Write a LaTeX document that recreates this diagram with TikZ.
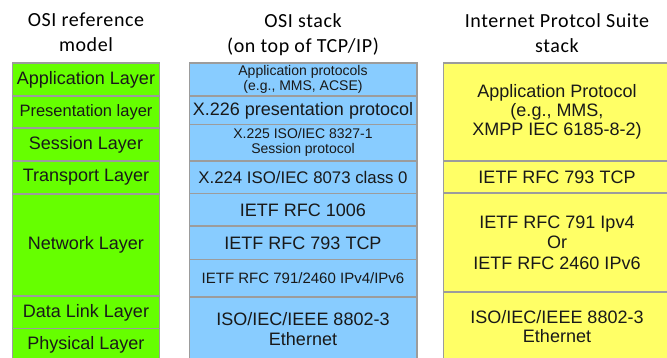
\documentclass[tikz,border=0pt]{standalone}
\usepackage{fontspec}
\setmainfont{Liberation Sans}
\newfontfamily\headingfont[LetterSpace=3]{Carlito}

\definecolor{osigreen}{HTML}{66FF00}
\definecolor{osiblue}{HTML}{88CCFF}
\definecolor{ipsyellow}{HTML}{FFFF66}
\definecolor{cellgrey}{HTML}{9C9C9C}

\begin{document}
\begin{tikzpicture}[x=1pt,y=-1pt,
	cell/.style={draw=cellgrey, line width=1.2pt},
	layertext/.style={align=center, inner sep=0pt, text=black!90, font=\fontsize{18}{20.5}\selectfont},
	smalltext/.style={layertext, font=\fontsize{14}{15}\selectfont},
	heading/.style={align=center, anchor=north, inner sep=0pt, font=\headingfont\fontsize{20}{25}\selectfont}]
	\useasboundingbox (0,0) rectangle (667,358);
	\clip (0,0) rectangle (667,358);

	% OSI reference model
	\draw[cell, fill=osigreen] (12.5,63) rectangle (159.5,96);
	\draw[cell, fill=osigreen] (12.5,96) rectangle (159.5,128);
	\draw[cell, fill=osigreen] (12.5,128) rectangle (159.5,161);
	\draw[cell, fill=osigreen] (12.5,161) rectangle (159.5,194);
	\draw[cell, fill=osigreen] (12.5,194) rectangle (159.5,296);
	\draw[cell, fill=osigreen] (12.5,296) rectangle (159.5,328.5);
	\draw[cell, fill=osigreen] (12.5,328.5) rectangle (159.5,365);

	% OSI stack
	\draw[cell, fill=osiblue] (189.5,63) rectangle (417,96);
	\draw[cell, fill=osiblue] (189.5,96) rectangle (417,124.5);
	\draw[cell, fill=osiblue] (189.5,124.5) rectangle (417,161);
	\draw[cell, fill=osiblue] (189.5,161) rectangle (417,193.5);
	\draw[cell, fill=osiblue] (189.5,193.5) rectangle (417,226);
	\draw[cell, fill=osiblue] (189.5,226) rectangle (417,259.5);
	\draw[cell, fill=osiblue] (189.5,259.5) rectangle (417,297);
	\draw[cell, fill=osiblue] (189.5,297) rectangle (417,365);

	% Internet protocol suite
	\draw[cell, fill=ipsyellow] (443.5,63) rectangle (671,161);
	\draw[cell, fill=ipsyellow] (443.5,161) rectangle (671,193);
	\draw[cell, fill=ipsyellow] (443.5,193) rectangle (671,292);
	\draw[cell, fill=ipsyellow] (443.5,292) rectangle (671,365);

	% Headings
	\node[heading] (osihead) at (86,13) {OSI reference\\model};
	\node[heading] (stackhead) at (303,13) {OSI stack\\(on top of TCP/IP)};
	\node[heading] (ipshead) at (557,13) {Internet Protcol Suite\\stack};

	% Layers
	\node[layertext] (application) at (86,79.5) {Application Layer};
	\node[layertext, font=\fontsize{16.5}{18}\selectfont] (presentation) at (86,112) {Presentation layer};
	\node[layertext] (session) at (86,144.5) {Session Layer};
	\node[layertext] (transport) at (86,177.5) {Transport Layer};
	\node[layertext] (network) at (86,245) {Network Layer};
	\node[layertext] (datalink) at (86,312.5) {Data Link Layer};
	\node[layertext] (physical) at (86,344.5) {Physical Layer};

	% OSI stack protocols
	\node[smalltext] (appproto) at (303,79.5) {Application protocols\\(e.g., MMS, ACSE)};
	\node[layertext] (xpres) at (303,110.5) {X.226 presentation protocol};
	\node[smalltext] (xsess) at (303,142.75) {X.225 ISO/IEC 8327-1\\Session protocol};
	\node[layertext, font=\fontsize{16.8}{18}\selectfont] (xtrans) at (303,177.5) {X.224 ISO/IEC 8073 class 0};
	\node[layertext] (rfcosi) at (303,210) {IETF RFC 1006};
	\node[layertext] (tcposi) at (303,243) {IETF RFC 793 TCP};
	\node[smalltext, font=\fontsize{15}{16}\selectfont] (iposi) at (303,278.5) {IETF RFC 791/2460 IPv4/IPv6};
	\node[layertext] (ethosi) at (303,329) {ISO/IEC/IEEE 8802-3\\Ethernet};

	% Internet protocol suite protocols
	\node[layertext, font=\fontsize{18}{19}\selectfont] (appips) at (557,112) {Application Protocol\\(e.g., MMS,\\XMPP IEC 6185-8-2)};
	\node[layertext] (tcpips) at (557,177) {IETF RFC 793 TCP};
	\node[layertext] (ipips) at (557,242.5) {IETF RFC 791 Ipv4\\Or\\IETF RFC 2460 IPv6};
	\node[layertext, font=\fontsize{18}{19}\selectfont] (ethips) at (557,326.5) {ISO/IEC/IEEE 8802-3\\Ethernet};
\end{tikzpicture}
\end{document}
